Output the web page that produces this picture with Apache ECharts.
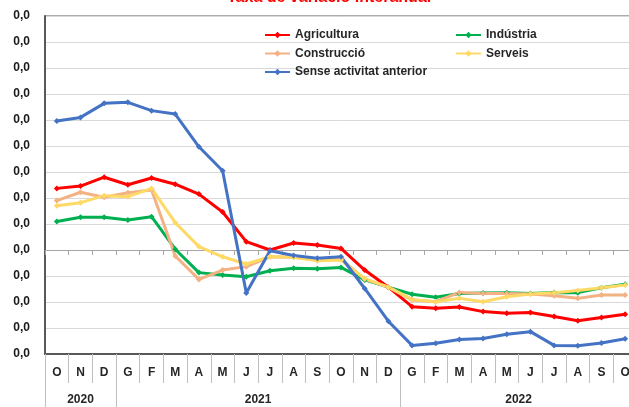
<!DOCTYPE html>
<html>
<head>
<meta charset="utf-8">
<script src="https://cdn.jsdelivr.net/npm/echarts@6/dist/echarts.min.js"></script>
<style>
  html, body {margin: 0; padding: 0; background: #fff;}
  #chart {width: 629px; height: 407px;}
</style>
</head>
<body>
<div id="chart"></div>
<script>
// months Oct 2020 .. Oct 2022 (plot runs slightly past the right edge of the crop)
const months = ['O', 'N', 'D', 'G', 'F', 'M', 'A', 'M', 'J', 'J', 'A', 'S', 'O', 'N', 'D', 'G', 'F', 'M', 'A', 'M', 'J', 'J', 'A', 'S', 'O']
const years = ['2020', '2021', '2022']
const yearStart = [0, 3, 15]
const yearEnd = [3, 15, 25]

const agricultura = [23.7, 24.6, 28, 25.1, 27.7, 25.3, 21.5, 14.6, 3.2, 0, 2.7, 1.9, 0.6, -7.7, -14.3, -21.8, -22.4, -21.9, -23.7, -24.3, -24, -25.6, -27.2, -26, -24.7]
const industria = [11, 12.6, 12.6, 11.5, 12.8, 0.3, -8.7, -9.6, -10.3, -8, -7, -7.2, -6.7, -11.5, -14.3, -17, -18.2, -16.7, -16.5, -16.4, -16.7, -16.3, -16.4, -14.5, -13.2]
const construccio = [19, 22.2, 20.3, 22, 23.1, -2.3, -11.3, -7.7, -6.4, -2.6, -2.8, -3.8, -3.5, -11.2, -14.3, -19.2, -19.9, -16.3, -16.7, -16.7, -16.9, -17.6, -18.6, -17.3, -17.3]
const serveis = [17, 18.2, 20.9, 20.5, 23.7, 10.5, 1.3, -2.6, -5.4, -2.6, -2.8, -4.1, -3.8, -11, -14.3, -19, -19.9, -18.6, -19.9, -18, -16.9, -16.4, -15.6, -14.5, -13.5]
const senseActivitat = [49.6, 51, 56.4, 56.8, 53.6, 52.3, 39.7, 30.5, -16.5, -0.3, -2.1, -3.2, -2.6, -14.8, -27.4, -36.7, -35.9, -34.4, -34, -32.4, -31.4, -36.7, -36.8, -35.8, -34.1]

const font = "'Liberation Sans', Arial, sans-serif"
const chart = echarts.init(document.getElementById('chart'))

const line = (name, data, color) => ({
  name,
  type: 'line',
  data,
  xAxisIndex: 0,
  symbol: 'diamond',
  symbolSize: 6,
  lineStyle: {width: 3, color},
  itemStyle: {color},
  animation: false
})

const yearMid = years.map((y, i) => (yearStart[i] + yearEnd[i]) / 2)

const legendBase = {
  orient: 'vertical',
  top: 29,
  padding: 0,
  itemWidth: 25,
  itemHeight: 8,
  itemGap: 6.5,
  textStyle: {fontSize: 12, fontWeight: 'bold', color: '#262626', fontFamily: font}
}

const option = {
  animation: false,
  textStyle: {fontFamily: font},
  title: {
    text: 'Taxa de variació interanual',
    left: 227,
    top: -10,
    padding: 0,
    textStyle: {color: '#ff0000', fontSize: 16, fontWeight: 'bold', fontFamily: font}
  },
  legend: [
    Object.assign({}, legendBase, {data: ['Agricultura', 'Construcció', 'Sense activitat anterior'], left: 264}),
    Object.assign({}, legendBase, {data: ['Indústria', 'Serveis'], left: 455})
  ],
  grid: {
    left: 45,
    top: 16,
    width: 592,
    height: 338,
    outerBoundsMode: 'none',
    containLabel: false,
    show: true,
    borderColor: '#595959',
    borderWidth: 1
  },
  xAxis: [
    {
      // line across zero with small ticks
      type: 'category',
      data: months,
      axisLine: {onZero: true, lineStyle: {color: '#a6a6a6', width: 1}},
      axisTick: {show: true, length: 5, interval: 0, lineStyle: {color: '#a6a6a6'}},
      axisLabel: {show: false},
      splitLine: {show: false}
    },
    {
      type: 'category',
      data: months,
      position: 'bottom',
      axisLine: {onZero: false, lineStyle: {color: '#595959', width: 2}},
      axisTick: {show: true, length: 29, interval: 0, lineStyle: {color: '#bfbfbf'}},
      axisLabel: {interval: 0, margin: 13, fontSize: 12, fontWeight: 'bold', color: '#262626', fontFamily: font},
      splitLine: {show: false}
    },
    {
      type: 'value',
      min: 0,
      max: 25,
      position: 'bottom',
      axisLine: {show: false, onZero: false},
      axisTick: {show: true, length: 53, customValues: yearStart.concat([25]), lineStyle: {color: '#bfbfbf'}},
      axisLabel: {
        customValues: yearMid,
        margin: 40,
        fontSize: 12,
        fontWeight: 'bold',
        color: '#262626',
        fontFamily: font,
        formatter: (v) => years[yearMid.indexOf(v)] || ''
      },
      splitLine: {show: false}
    }
  ],
  yAxis: {
    type: 'value',
    min: -40,
    max: 90,
    interval: 10,
    axisLine: {show: true, lineStyle: {color: '#595959', width: 2}},
    axisTick: {show: false},
    axisLabel: {
      margin: 15,
      fontSize: 12,
      fontWeight: 'bold',
      color: '#1a1a1a',
      fontFamily: font,
      formatter: () => '0,0'
    },
    splitLine: {lineStyle: {color: '#d9d9d9', width: 1}}
  },
  series: [
    line('Agricultura', agricultura, '#ff0000'),
    line('Indústria', industria, '#00b050'),
    line('Construcció', construccio, '#f4b183'),
    line('Serveis', serveis, '#ffd966'),
    line('Sense activitat anterior', senseActivitat, '#4472c4')
  ]
}

chart.setOption(option)
</script>
</body>
</html>
